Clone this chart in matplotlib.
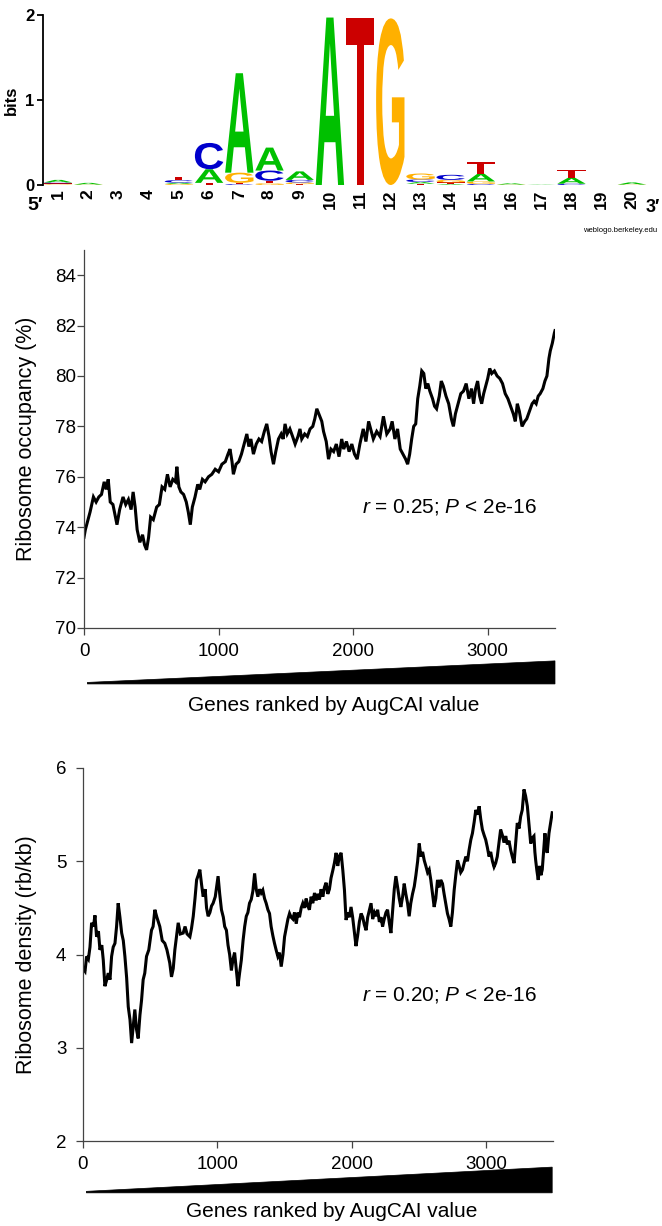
import matplotlib
matplotlib.use('Agg')
import matplotlib.pyplot as plt
from matplotlib.textpath import TextPath
from matplotlib.font_manager import FontProperties
from matplotlib.patches import PathPatch, Polygon
from matplotlib.transforms import Affine2D, blended_transform_factory

plt.rcParams['font.family'] = ['Liberation Sans', 'DejaVu Sans']
plt.rcParams['mathtext.fontset'] = 'custom'
plt.rcParams['mathtext.rm'] = 'Liberation Sans'
plt.rcParams['mathtext.it'] = 'Liberation Sans:italic'

# ---------------- sequence logo data (bits per letter) ----------------
logo_positions = list(range(1, 21))
logo_A = [0.03, 0.02, 0, 0, 0.015, 0.16, 1.17, 0.27, 0.10, 1.97, 0, 0, 0.02, 0.01, 0.09, 0.015, 0.004, 0.07, 0, 0.025]
logo_C = [0.012, 0, 0, 0, 0.03, 0.31, 0.01, 0.12, 0.03, 0, 0, 0, 0.03, 0.06, 0.012, 0, 0, 0.015, 0, 0]
logo_G = [0.008, 0.005, 0, 0, 0.012, 0.0, 0.12, 0.02, 0.02, 0, 0, 1.96, 0.07, 0.03, 0.03, 0.005, 0, 0.0, 0, 0.005]
logo_T = [0.01, 0, 0, 0, 0.04, 0.025, 0.015, 0.03, 0.01, 0, 1.96, 0, 0.015, 0.02, 0.14, 0, 0, 0.09, 0, 0]
logo_colors = {'A': '#00c000', 'C': '#0000cc', 'G': '#ffb000', 'T': '#cc0000'}

# ---------------- ribosome occupancy (%) ----------------
occ_rank = [0, 10, 25, 45, 70, 90, 110, 130, 150, 165, 180, 195, 215, 230, 245, 265, 290, 310, 330, 350,
            365, 380, 395, 415, 435, 450, 465, 480, 495, 515, 540, 560, 580, 600, 620, 640, 660, 680, 690, 705,
            720, 740, 760, 775, 790, 805, 825, 845, 860, 880, 900, 925, 950, 975, 1000, 1025, 1050, 1070, 1085, 1100,
            1110, 1130, 1150, 1170, 1190, 1210, 1225, 1240, 1259, 1280, 1300, 1320, 1340, 1358, 1375, 1390, 1408, 1425, 1445, 1465,
            1480, 1494, 1510, 1530, 1550, 1569, 1590, 1605, 1618, 1640, 1660, 1680, 1700, 1715, 1730, 1745, 1767, 1780, 1800, 1817,
            1835, 1855, 1875, 1895, 1915, 1930, 1950, 1970, 1990, 2010, 2030, 2050, 2075, 2095, 2115, 2135, 2150, 2175, 2200, 2225,
            2250, 2275, 2290, 2310, 2330, 2350, 2370, 2390, 2405, 2420, 2435, 2450, 2465, 2480, 2495, 2510, 2525, 2540, 2555, 2570,
            2590, 2605, 2620, 2640, 2655, 2670, 2690, 2710, 2730, 2745, 2760, 2780, 2800, 2820, 2840, 2860, 2880, 2895, 2910, 2925,
            2940, 2955, 2970, 2985, 3000, 3015, 3030, 3050, 3070, 3090, 3110, 3130, 3150, 3170, 3190, 3205, 3220, 3235, 3255, 3275,
            3290, 3310, 3330, 3345, 3360, 3375, 3390, 3410, 3425, 3440, 3455, 3465, 3480, 3495, 3500]
occ_value = [73.6, 73.9, 74.2, 74.6, 75.2, 75.0, 75.2, 75.3, 75.8, 75.5, 75.9, 75.0, 74.9, 74.5, 74.1, 74.7, 75.2, 74.9, 75.1, 74.7,
             75.4, 74.8, 73.9, 73.4, 73.7, 73.3, 73.1, 73.6, 74.4, 74.3, 74.8, 74.9, 75.6, 75.5, 76.1, 75.6, 75.9, 75.8, 76.4, 75.6,
             75.4, 75.3, 75.0, 74.6, 74.1, 74.8, 75.2, 75.7, 75.5, 75.9, 75.8, 76.0, 76.1, 76.3, 76.2, 76.5, 76.6, 76.9, 77.1, 76.6,
             76.1, 76.5, 76.6, 76.9, 77.3, 77.7, 77.2, 77.5, 76.9, 77.3, 77.5, 77.4, 77.8, 78.1, 77.6, 77.0, 76.5, 77.0, 77.5, 77.7,
             77.5, 78.1, 77.7, 77.9, 77.6, 77.3, 77.6, 77.9, 77.5, 77.7, 77.6, 77.9, 78.0, 78.3, 78.7, 78.5, 78.2, 77.8, 77.4, 76.7,
             77.1, 77.0, 77.3, 76.8, 77.5, 77.1, 77.4, 77.0, 77.3, 76.9, 76.7, 77.3, 77.9, 77.4, 78.2, 77.8, 77.5, 77.8, 77.6, 78.4,
             77.7, 77.9, 78.2, 77.5, 77.9, 77.1, 76.9, 76.7, 76.5, 76.9, 77.5, 78.0, 78.1, 79.1, 79.6, 80.2, 80.1, 79.5, 79.7, 79.4,
             79.1, 78.8, 78.7, 79.2, 79.8, 79.6, 79.2, 78.9, 78.3, 78.0, 78.5, 78.9, 79.3, 79.4, 79.7, 79.1, 79.5, 78.9, 79.5, 79.8,
             79.2, 78.9, 79.3, 79.6, 79.9, 80.3, 80.1, 80.2, 80.0, 79.9, 79.7, 79.3, 79.1, 78.8, 78.5, 78.2, 78.9, 78.6, 78.0, 78.2,
             78.3, 78.6, 78.9, 79.0, 78.9, 79.2, 79.3, 79.5, 79.8, 80.0, 80.7, 81.0, 81.3, 81.7, 81.8]

# ---------------- ribosome density (rb/kb) ----------------
den_rank = [0, 15, 27, 40, 52, 64, 78, 89, 101, 115, 126, 140, 151, 163, 175, 188, 201, 213, 225, 238,
            250, 262, 275, 288, 300, 312, 325, 337, 350, 362, 375, 386, 398, 411, 424, 436, 448, 460, 473, 490,
            510, 522, 535, 550, 572, 590, 609, 625, 646, 659, 672, 684, 697, 709, 725, 746, 760, 775, 796, 808,
            821, 834, 846, 858, 870, 883, 895, 910, 920, 932, 945, 957, 969, 985, 1006, 1018, 1031, 1045, 1055, 1068,
            1080, 1092, 1105, 1117, 1129, 1141, 1154, 1166, 1179, 1192, 1204, 1216, 1228, 1240, 1253, 1265, 1278, 1290, 1302, 1315,
            1327, 1339, 1352, 1364, 1377, 1389, 1401, 1414, 1426, 1438, 1451, 1463, 1476, 1489, 1501, 1513, 1526, 1538, 1550, 1563,
            1575, 1588, 1600, 1612, 1625, 1637, 1650, 1662, 1674, 1686, 1699, 1711, 1724, 1736, 1749, 1761, 1773, 1786, 1798, 1810,
            1823, 1835, 1847, 1860, 1872, 1885, 1897, 1910, 1922, 1935, 1947, 1959, 1971, 1984, 1996, 2008, 2020, 2033, 2045, 2058,
            2071, 2083, 2095, 2108, 2120, 2133, 2145, 2157, 2170, 2182, 2194, 2207, 2219, 2231, 2243, 2256, 2268, 2280, 2293, 2305,
            2318, 2330, 2343, 2355, 2367, 2380, 2392, 2404, 2417, 2429, 2441, 2454, 2467, 2479, 2492, 2504, 2516, 2529, 2541, 2553,
            2566, 2578, 2590, 2603, 2615, 2627, 2640, 2652, 2664, 2677, 2689, 2701, 2714, 2726, 2739, 2751, 2764, 2776, 2789, 2801,
            2813, 2826, 2838, 2851, 2863, 2875, 2888, 2900, 2913, 2925, 2938, 2950, 2962, 2974, 2987, 2999, 3011, 3024, 3036, 3049,
            3061, 3073, 3085, 3098, 3110, 3123, 3135, 3148, 3160, 3172, 3185, 3197, 3210, 3222, 3234, 3247, 3259, 3271, 3284, 3296,
            3309, 3321, 3334, 3346, 3358, 3365, 3371, 3380, 3390, 3400, 3410, 3420, 3430, 3440, 3448, 3457, 3470, 3482, 3494]
den_value = [3.85, 3.82, 3.98, 3.95, 4.08, 4.34, 4.30, 4.42, 4.19, 4.25, 4.05, 4.10, 3.94, 3.66, 3.72, 3.80, 3.73, 3.98, 4.08, 4.12,
             4.30, 4.55, 4.40, 4.23, 4.15, 3.98, 3.75, 3.44, 3.30, 3.05, 3.25, 3.41, 3.20, 3.10, 3.35, 3.51, 3.73, 3.80, 3.98, 4.05,
             4.26, 4.30, 4.48, 4.40, 4.30, 4.15, 4.12, 4.05, 3.91, 3.76, 3.85, 4.05, 4.20, 4.34, 4.22, 4.23, 4.30, 4.22, 4.19, 4.28,
             4.41, 4.60, 4.80, 4.85, 4.91, 4.75, 4.62, 4.70, 4.50, 4.41, 4.45, 4.52, 4.55, 4.62, 4.84, 4.65, 4.48, 4.40, 4.30, 4.26,
             4.10, 4.00, 3.83, 3.95, 4.02, 3.85, 3.66, 3.80, 3.94, 4.15, 4.30, 4.41, 4.45, 4.55, 4.59, 4.68, 4.87, 4.70, 4.62, 4.70,
             4.66, 4.69, 4.60, 4.55, 4.48, 4.44, 4.30, 4.20, 4.12, 4.05, 3.98, 4.02, 3.87, 4.00, 4.19, 4.28, 4.38, 4.44, 4.40, 4.38,
             4.45, 4.33, 4.45, 4.40, 4.50, 4.55, 4.50, 4.60, 4.52, 4.48, 4.62, 4.55, 4.66, 4.58, 4.65, 4.59, 4.70, 4.62, 4.72, 4.77,
             4.65, 4.70, 4.82, 4.90, 4.98, 5.09, 4.95, 5.06, 5.09, 4.90, 4.69, 4.37, 4.45, 4.40, 4.51, 4.40, 4.25, 4.09, 4.20, 4.35,
             4.44, 4.40, 4.32, 4.26, 4.40, 4.48, 4.55, 4.38, 4.45, 4.41, 4.48, 4.35, 4.40, 4.30, 4.38, 4.45, 4.48, 4.35, 4.23, 4.45,
             4.70, 4.84, 4.72, 4.60, 4.51, 4.62, 4.76, 4.65, 4.55, 4.41, 4.55, 4.65, 4.73, 4.85, 5.00, 5.19, 5.05, 5.10, 5.01, 4.95,
             4.88, 4.91, 4.80, 4.65, 4.51, 4.60, 4.80, 4.72, 4.80, 4.76, 4.65, 4.55, 4.44, 4.38, 4.30, 4.45, 4.69, 4.85, 5.01, 4.95,
             4.88, 4.91, 4.98, 5.05, 5.00, 5.12, 5.23, 5.30, 5.42, 5.55, 5.50, 5.59, 5.45, 5.34, 5.28, 5.23, 5.15, 5.05, 5.10, 5.00,
             4.94, 4.98, 5.05, 5.20, 5.34, 5.28, 5.20, 5.27, 5.18, 5.22, 5.12, 5.05, 4.98, 5.20, 5.41, 5.35, 5.48, 5.55, 5.77, 5.70,
             5.59, 5.40, 5.19, 5.25, 5.27, 5.10, 5.01, 4.90, 4.80, 4.95, 4.85, 4.91, 5.10, 5.30, 5.15, 5.09, 5.30, 5.41, 5.52]

occ_yticks = [70, 72, 74, 76, 78, 80, 82, 84]
den_yticks = [2, 3, 4, 5, 6]
rank_ticks = [0, 1000, 2000, 3000]
xlabel_text = 'Genes ranked by AugCAI value'

W, H = 662, 1226
fig = plt.figure(figsize=(W / 100, H / 100), dpi=100)


def box(left, top, right, bottom):
    return [left / W, 1 - bottom / H, (right - left) / W, (bottom - top) / H]


# ---------------- logo panel ----------------
ax0 = fig.add_axes(box(43, 15, 647, 185))
fp = FontProperties(family='Liberation Sans', weight='bold')


def draw_letter(ax, letter, xc, y0, w, h, color):
    if h <= 0:
        return
    tp = TextPath((0, 0), letter, size=1, prop=fp)
    bb = tp.get_extents()
    tr = Affine2D().translate(-bb.x0, -bb.y0).scale(w / bb.width, h / bb.height).translate(xc - w / 2, y0)
    ax.add_patch(PathPatch(tr.transform_path(tp), facecolor=color, edgecolor='none', lw=0))


for i, pos in enumerate(logo_positions):
    stack = [('A', logo_A[i]), ('C', logo_C[i]), ('G', logo_G[i]), ('T', logo_T[i])]
    stack.sort(key=lambda s: s[1])
    y = 0
    for letter, hgt in stack:
        draw_letter(ax0, letter, pos, y, 0.94, hgt, logo_colors[letter])
        y += hgt

ax0.set_xlim(0.5, 20.5)
ax0.set_ylim(0, 2)
for s in ['top', 'right', 'bottom']:
    ax0.spines[s].set_visible(False)
ax0.spines['left'].set_linewidth(1.3)
ax0.set_yticks([0, 1, 2])
ax0.set_yticklabels(['0', '1', '2'], fontweight='bold', fontsize=12)
ax0.tick_params(axis='y', length=4, width=1.3, pad=2)
ax0.set_xticks(logo_positions)
ax0.set_xticklabels([str(p) for p in logo_positions], rotation=90, fontweight='bold', fontsize=12.5)
ax0.tick_params(axis='x', length=0, pad=3)
ax0.set_ylabel('bits', fontweight='bold', fontsize=12)
ax0.yaxis.set_label_coords(-0.040, 0.5)
fig.text(35 / W, 1 - 205 / H, '5\u2032', ha='center', va='center', fontsize=14, fontweight='bold')
fig.text(646 / W, 1 - 208 / H, '3\u2032', ha='left', va='center', fontsize=13, fontweight='bold')
fig.text(583 / W, 1 - 230 / H, 'weblogo.berkeley.edu', ha='left', va='center', fontsize=5.5)


# ---------------- line panels ----------------
def line_panel(rect, ranks, values, ylim, yticks, ylabel, note, note_xy, ypad, wedge_y, xlab_y, ylab_x):
    ax = fig.add_axes(rect)
    ax.plot(ranks, values, color='black', lw=2.2, solid_joinstyle='miter')
    ax.set_xlim(0, 3500)
    ax.set_ylim(*ylim)
    ax.set_yticks(yticks)
    ax.set_xticks(rank_ticks)
    for s in ['top', 'right']:
        ax.spines[s].set_visible(False)
    for s in ['left', 'bottom']:
        ax.spines[s].set_linewidth(0.9)
        ax.spines[s].set_color('#444444')
    ax.tick_params(axis='y', length=5, width=0.9, color='#444444', pad=ypad, labelsize=13.5)
    ax.tick_params(axis='x', length=5, width=0.9, color='#444444', pad=6, labelsize=13.5)
    ax.set_ylabel(ylabel, fontsize=15.5)
    ax.yaxis.set_label_coords(ylab_x, 0.5)
    ax.text(note_xy[0], note_xy[1], note, ha='center', va='center', fontsize=15)
    tr = blended_transform_factory(ax.transData, ax.transAxes)
    x_end = max(ranks)
    wedge = Polygon([(25, wedge_y[1] + 0.004), (x_end, wedge_y[0]), (x_end, wedge_y[1]), (25, wedge_y[1])],
                    closed=True, facecolor='black', edgecolor='black', lw=0.5, transform=tr, clip_on=False)
    ax.add_patch(wedge)
    ax.text(0.53, xlab_y, xlabel_text, transform=ax.transAxes, ha='center', va='center', fontsize=15)
    return ax


line_panel(box(84, 250, 555, 628), occ_rank, occ_value, (70, 85), occ_yticks,
           'Ribosome occupancy (%)', r'$\it{r}$ = 0.25; $\it{P}$ < 2e-16', (2720, 74.8), 1,
           (-0.087, -0.148), -0.204, -0.10)
line_panel(box(83, 768, 553, 1141), den_rank, den_value, (2, 6), den_yticks,
           'Ribosome density (rb/kb)', r'$\it{r}$ = 0.20; $\it{P}$ < 2e-16', (2730, 3.57), 7,
           (-0.070, -0.139), -0.190, -0.098)

fig.savefig('out.png', dpi=100)
